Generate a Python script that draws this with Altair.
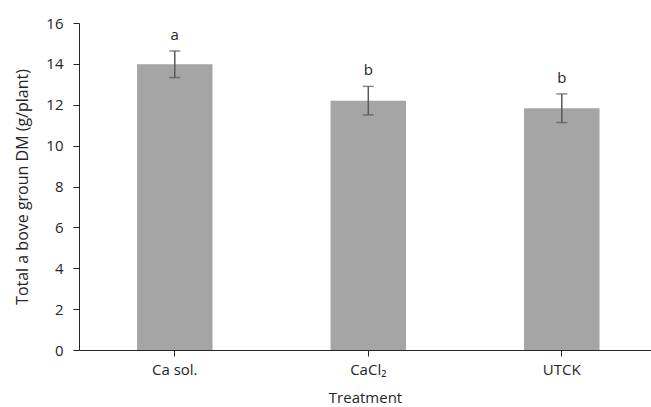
import altair as alt
import pandas as pd

treatments = ["Ca sol.", "CaCl₂", "UTCK"]
means = [13.98, 12.2, 11.83]
errors = [0.65, 0.7, 0.7]
letters = ["a", "b", "b"]

df = pd.DataFrame({
    "Treatment": treatments,
    "mean": means,
    "err": errors,
    "letter": letters,
})
df["lo"] = df["mean"] - df["err"]
df["hi"] = df["mean"] + df["err"]

FONT = "Open Sans"
YTITLE = "Total a bove groun DM (g/plant)"

x_enc = alt.X(
    "Treatment:N",
    sort=treatments,
    scale=alt.Scale(paddingInner=0.61, paddingOuter=0.283, align=0.53),
    axis=alt.Axis(
        title="Treatment", labelAngle=0, tickSize=6, labelPadding=6,
        titlePadding=13, domainColor="#262626", tickColor="#262626",
        labelFont=FONT, titleFont=FONT, labelFontSize=15, titleFontSize=15,
        labelColor="#262626", titleColor="#262626", titleFontWeight="normal",
    ),
)

bars = alt.Chart(df).mark_bar(color="#a5a5a5").encode(
    x=x_enc,
    y=alt.Y(
        "mean:Q",
        title=YTITLE,
        scale=alt.Scale(domain=[0, 16], nice=False),
        axis=alt.Axis(
            title=YTITLE, values=list(range(0, 17, 2)),
            grid=False, tickSize=6, labelPadding=10, titlePadding=15,
            domainColor="#262626", tickColor="#262626",
            labelFont=FONT, titleFont=FONT, labelFontSize=15, titleFontSize=16,
            labelColor="#262626", titleColor="#262626", titleFontWeight="normal",
        ),
    ),
)

errs = alt.Chart(df).mark_errorbar(
    ticks=alt.MarkConfig(size=11, color="#595959", strokeWidth=1.5),
    color="#595959", thickness=1.5,
).encode(
    x=alt.X("Treatment:N", sort=treatments),
    y=alt.Y("lo:Q", title=YTITLE),
    y2="hi:Q",
)

text = alt.Chart(df).mark_text(
    baseline="bottom", dy=-8, font=FONT, fontSize=15, color="#262626"
).encode(
    x=alt.X("Treatment:N", sort=treatments),
    y=alt.Y("hi:Q", title=YTITLE),
    text="letter:N",
)

chart = alt.layer(bars, errs, text).properties(
    width=572, height=327,
    padding={"left": 79, "top": 23, "right": 0, "bottom": 57},
    autosize=alt.AutoSizeParams(type="none"),
).configure_view(stroke=None)

chart.save("out.html", embed_options={"renderer": "svg", "actions": False})
